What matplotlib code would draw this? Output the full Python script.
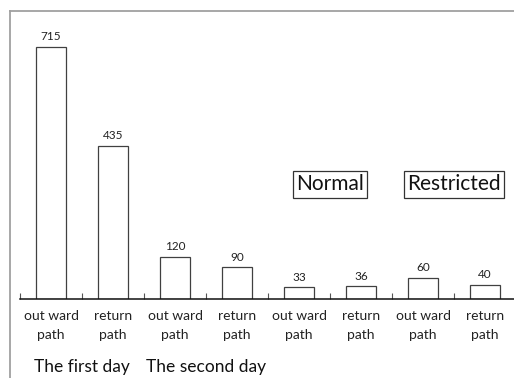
import matplotlib.pyplot as plt
from matplotlib.lines import Line2D

# datos
etiquetas = ['out ward\npath', 'return\npath'] * 4
valores = [715, 435, 120, 90, 33, 36, 60, 40]
grupos = ['The first day', 'The second day', 'Normal', 'Restricted']

plt.rcParams['font.family'] = 'Lato'

fig = plt.figure(figsize=(5.14, 3.78), dpi=100)
W, H = 514, 378
# ejes en pixeles: x de 20 a 516, base en y=299
ax = fig.add_axes([20 / W, 1 - 299 / H, 496 / W, 289 / H])

pos = [i + 0.5 for i in range(len(valores))]
ax.bar(pos, valores, width=0.49, color='white', edgecolor='#404040', linewidth=0.9)
for x, v in zip(pos, valores):
    ax.text(x, v + 13, str(v), ha='center', va='bottom', fontsize=8.5, color='#222222')

ax.set_xlim(0, 8)
ax.set_ylim(0, 820)
for s in ['left', 'right', 'top']:
    ax.spines[s].set_visible(False)
ax.spines['bottom'].set_linewidth(1.1)
ax.spines['bottom'].set_color('#111111')
ax.set_yticks([])
ax.set_xticks(range(9))
ax.set_xticklabels([])
ax.tick_params(axis='x', which='major', direction='in', length=4, width=0.8, color='#555555')
ax.set_xticks(pos, minor=True)
ax.set_xticklabels(etiquetas, minor=True, fontsize=10, color='#222222', linespacing=1.65)
ax.tick_params(axis='x', which='minor', length=0, pad=8)

# nombres de los dias debajo
ax.text(1, -0.235, grupos[0], transform=ax.get_xaxis_transform(), ha='center', va='center',
        fontsize=12.5, color='#111111')
ax.text(3, -0.235, grupos[1], transform=ax.get_xaxis_transform(), ha='center', va='center',
        fontsize=12.5, color='#111111')

# cuadros Normal / Restricted
caja = dict(boxstyle='square,pad=0.15', facecolor='white', edgecolor='#333333', linewidth=0.9)
ax.text(5, 325, grupos[2], ha='center', va='center', fontsize=15, color='#111111', bbox=caja)
ax.text(7, 325, grupos[3], ha='center', va='center', fontsize=15, color='#111111', bbox=caja)

# marco exterior gris
fig.add_artist(Line2D([10 / W, 1], [1 - 10.5 / H] * 2, color='#a0a0a0', linewidth=1.3))
fig.add_artist(Line2D([10 / W] * 2, [0, 1 - 10.5 / H], color='#a0a0a0', linewidth=1.3))

plt.savefig('out.png', dpi=100)
